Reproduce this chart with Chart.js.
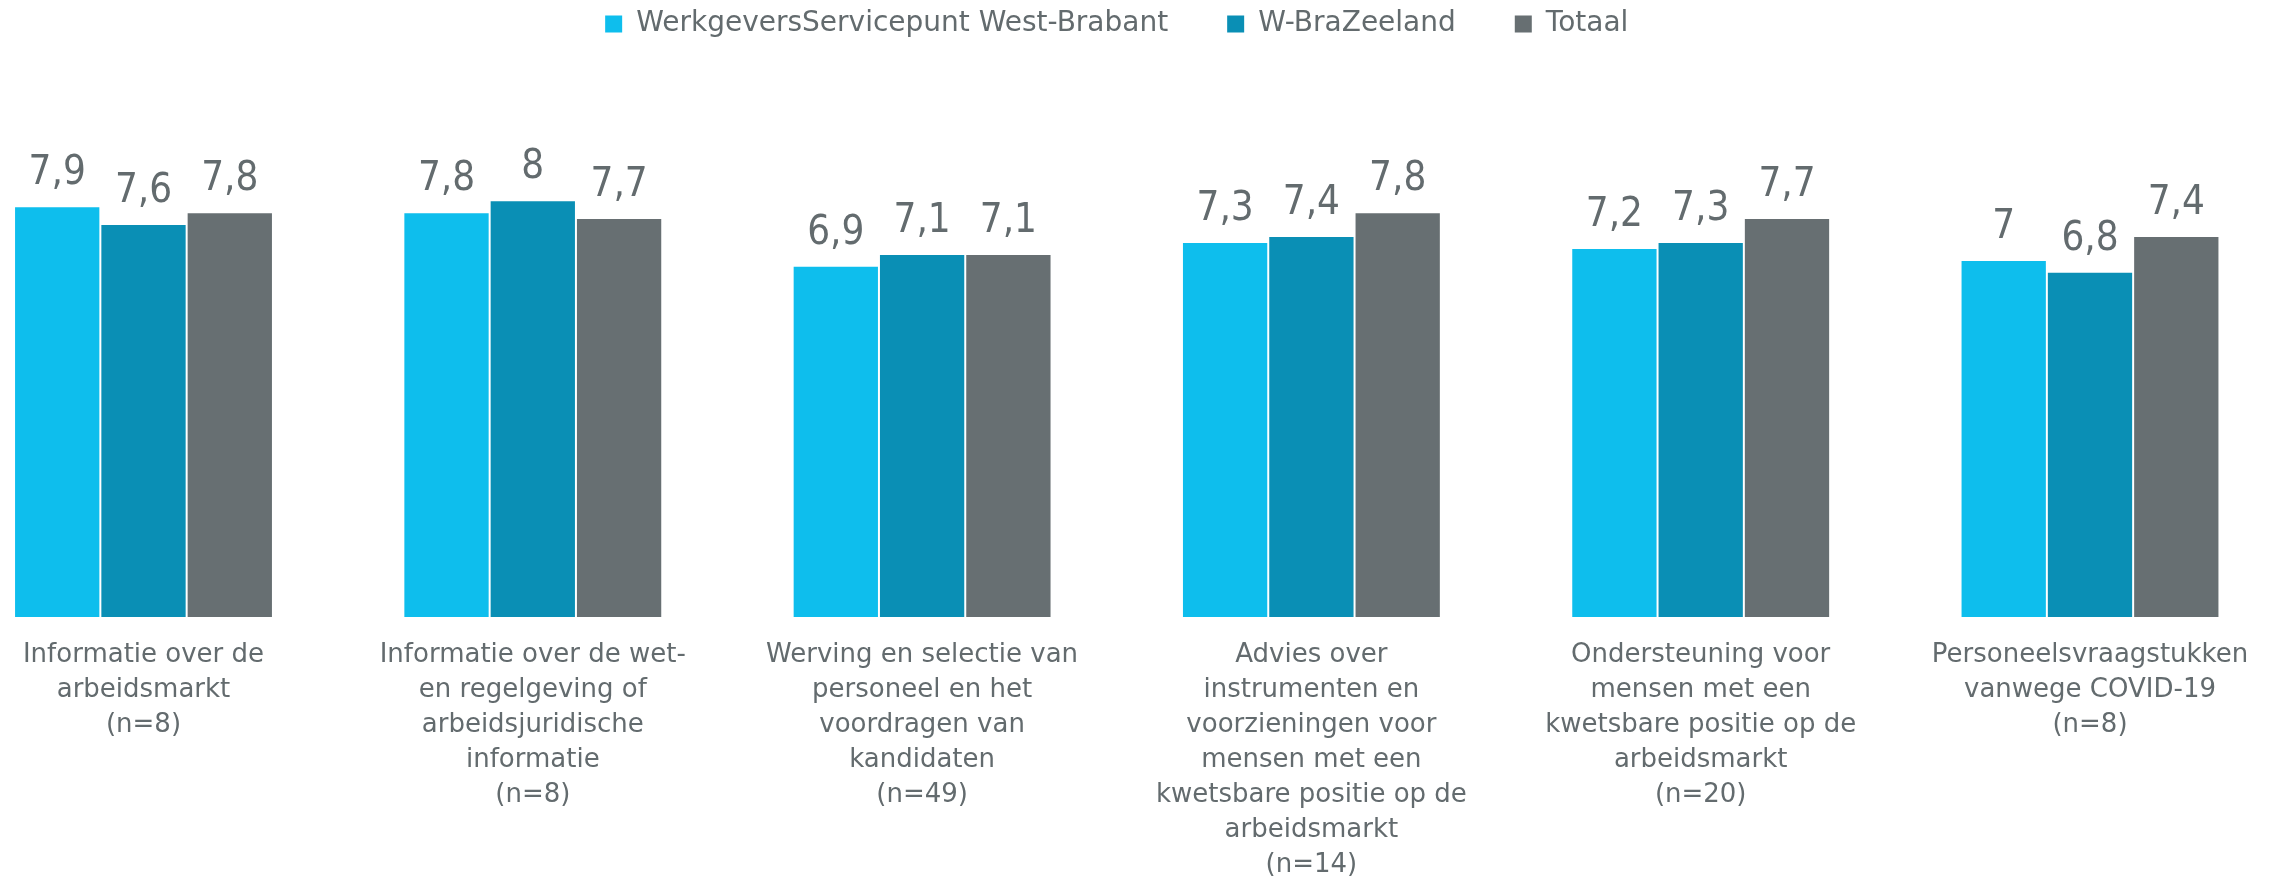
<!DOCTYPE html>
<html>
<head>
<meta charset="utf-8">
<script src="https://cdn.jsdelivr.net/npm/chart.js@4"></script>
<style>
html,body{margin:0;padding:0;background:#fff;}
</style>
</head>
<body>
<canvas id="ch" width="2277" height="879"></canvas>
<script>
/* data */
const categories=[
    ['Informatie over de','arbeidsmarkt','(n=8)'],
    ['Informatie over de wet-','en regelgeving of','arbeidsjuridische','informatie','(n=8)'],
    ['Werving en selectie van','personeel en het','voordragen van','kandidaten','(n=49)'],
    ['Advies over','instrumenten en','voorzieningen voor','mensen met een','kwetsbare positie op de','arbeidsmarkt','(n=14)'],
    ['Ondersteuning voor','mensen met een','kwetsbare positie op de','arbeidsmarkt','(n=20)'],
    ['Personeelsvraagstukken','vanwege COVID-19','(n=8)']
];
const seriesNames=['WerkgeversServicepunt West-Brabant','W-BraZeeland','Totaal'];
const wspWestBrabant=[7.9,7.8,6.9,7.3,7.2,7];
const wBraZeeland=[7.6,8,7.1,7.4,7.3,6.8];
const totaal=[7.8,7.7,7.1,7.8,7.7,7.4];

const COLORS=['#0ebeed','#0a8fb5','#676f72'];
const TEXT='#636b6e';

// value labels above the bars, comma as decimal separator
const valueLabels={
    id:'valueLabels',
    afterDatasetsDraw(chart){
        const ctx=chart.ctx;
        ctx.save();
        ctx.font='40px "DejaVu Sans Condensed","DejaVu Sans"';
        ctx.fillStyle=TEXT;
        ctx.textAlign='center';
        ctx.textBaseline='alphabetic';
        chart.data.datasets.forEach((ds,di)=>{
            chart.getDatasetMeta(di).data.forEach((bar,i)=>{
                ctx.fillText(String(ds.data[i]).replace('.',','),bar.x,bar.y-22);
            });
        });
        ctx.restore();
    }
};

const mkSet=(label,data,color)=>({
    label,data,backgroundColor:color,base:1,
    borderColor:'rgba(255,255,255,0.35)',borderWidth:1,borderSkipped:false,
    categoryPercentage:0.665,barPercentage:1,clip:false
});

new Chart(document.getElementById('ch').getContext('2d'),{
    type:'bar',
    data:{
        labels:categories,
        datasets:[
            mkSet(seriesNames[0],wspWestBrabant,COLORS[0]),
            mkSet(seriesNames[1],wBraZeeland,COLORS[1]),
            mkSet(seriesNames[2],totaal,COLORS[2])
        ]
    },
    options:{
        responsive:false,
        animation:false,
        layout:{padding:{top:-49,left:143.5,right:187,bottom:0}},
        plugins:{
            legend:{
                position:'top',
                labels:{
                    color:TEXT,
                    font:{family:'DejaVu Sans',size:28},
                    boxWidth:17,boxHeight:17,padding:59,
                    generateLabels:c=>Chart.defaults.plugins.legend.labels.generateLabels(c).map(l=>({...l,lineWidth:0}))
                }
            },
            tooltip:{enabled:false}
        },
        scales:{
            x:{
                offset:false,
                grid:{display:false,drawTicks:false},
                border:{display:false},
                ticks:{color:TEXT,font:{family:'DejaVu Sans',size:26,lineHeight:1.346},padding:20,maxRotation:0,autoSkip:false},
                afterFit:s=>{s.height=261;}
            },
            y:{display:false,min:1,max:10.55}
        }
    },
    plugins:[valueLabels]
});
</script>
</body>
</html>
